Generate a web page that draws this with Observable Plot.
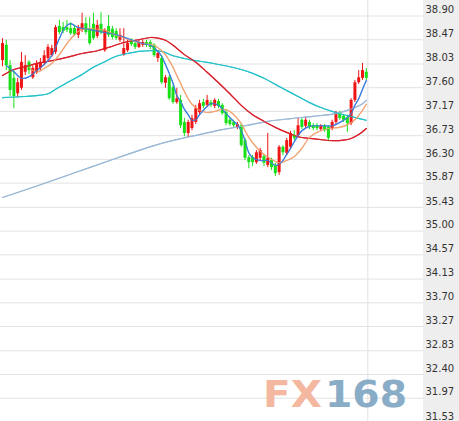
<!DOCTYPE html>
<html><head><meta charset="utf-8">
<script src="https://cdn.jsdelivr.net/npm/d3@7"></script>
<script src="https://cdn.jsdelivr.net/npm/@observablehq/plot@0.6"></script>
<style>
html,body{margin:0;padding:0;background:#fff;}
#chart{position:relative;width:459px;height:421px;background:linear-gradient(to right,#fff 0,#fff 423px,#eeeeee 423px,#eeeeee 459px);overflow:hidden;}
#chart svg{display:block;}
</style></head><body><div id="chart"></div>
<script>
// ---- data ----
const yTicks = [38.90,38.47,38.03,37.60,37.17,36.73,36.30,35.87,35.43,35.00,34.57,34.13,33.70,33.27,32.83,32.40,31.97,31.53];
const sessionBreak = [96.4];

const open = [38.09,38.37,38.00,37.77,37.49,37.59,37.88,38.06,37.78,37.88,
37.95,38.04,38.13,38.18,38.24,38.71,38.69,38.69,38.67,38.67,
38.55,38.64,38.76,38.67,38.75,38.53,38.75,38.27,38.71,38.66,
38.62,38.46,38.20,38.27,38.46,38.40,38.33,38.37,38.42,38.42,
38.37,38.13,38.13,37.68,37.78,37.60,37.33,37.37,36.97,36.77,
36.86,36.97,37.15,37.33,37.28,37.33,37.26,37.35,37.28,37.15,
37.01,36.97,36.88,36.91,36.64,36.33,36.33,36.24,36.32,36.35,
36.19,36.28,36.19,36.06,36.52,36.41,36.52,36.73,36.73,37.01,
36.90,36.97,36.91,36.91,36.84,36.90,36.88,36.86,36.97,37.13,
37.08,37.06,36.95,37.37,37.69,37.77,37.88];
const close = [38.40,38.00,37.55,37.44,37.69,38.06,38.00,37.91,37.95,38.04,
38.06,38.18,38.33,38.31,38.69,38.60,38.62,38.64,38.58,38.56,
38.67,38.76,38.60,38.40,38.49,38.73,38.60,38.64,38.55,38.51,
38.49,38.55,38.31,38.40,38.38,38.33,38.42,38.42,38.37,38.33,
38.18,38.22,37.69,37.78,37.40,37.33,37.40,36.91,36.77,36.97,
37.04,37.22,37.31,37.26,37.37,37.28,37.37,37.26,37.13,36.95,
36.93,36.91,36.93,36.55,36.32,36.24,36.24,36.42,36.46,36.23,
36.32,36.15,36.04,36.52,36.42,36.64,36.77,36.68,36.91,36.88,
37.01,36.88,36.86,36.86,36.90,36.82,36.68,36.97,37.13,37.04,
37.01,36.95,37.37,37.69,37.78,37.91,37.77];
const high = [38.49,38.46,38.09,37.91,37.77,38.24,38.18,38.09,38.00,38.09,
38.13,38.27,38.38,38.37,38.73,38.82,38.78,38.82,38.78,38.73,
38.73,38.95,38.87,38.87,38.95,38.82,38.96,38.67,38.91,38.71,
38.67,38.67,38.67,38.46,38.49,38.44,38.47,38.46,38.46,38.46,
38.40,38.27,38.18,37.82,37.82,37.64,37.59,37.46,37.04,37.01,
37.10,37.28,37.37,37.39,37.46,37.37,37.40,37.39,37.31,37.19,
37.04,37.01,36.97,36.95,36.68,36.37,36.37,36.46,36.50,36.39,
36.77,36.32,36.23,36.55,36.55,36.68,36.81,36.82,37.04,37.04,
37.06,37.01,36.95,36.95,36.93,36.93,36.91,37.01,37.17,37.17,
37.11,37.10,37.40,37.73,37.91,38.04,37.95];
const low = [37.98,37.91,37.44,37.22,37.42,37.55,37.82,37.84,37.75,37.84,
37.91,38.00,38.09,38.15,38.20,38.56,38.58,38.60,38.55,38.53,
38.49,38.60,38.56,38.37,38.46,38.49,38.56,38.24,38.51,38.47,
38.46,38.42,38.17,38.24,38.35,38.29,38.31,38.33,38.33,38.29,
38.15,38.06,37.66,37.59,37.37,37.30,37.30,36.86,36.71,36.70,
36.82,36.93,37.11,37.22,37.24,37.24,37.22,37.22,37.10,36.91,
36.90,36.88,36.84,36.52,36.28,36.13,36.17,36.21,36.28,36.17,
36.15,36.10,35.99,36.01,36.37,36.37,36.48,36.64,36.70,36.84,
36.86,36.84,36.82,36.82,36.81,36.79,36.62,36.82,36.93,37.01,
36.97,36.79,36.91,37.33,37.66,37.73,37.73];

// moving-average lines: [candle index, price]
const maBlue = [[1,38.00],[3,37.89],[5,37.77],[7,37.80],[9,37.91],[11,38.02],[13,38.18],[14,38.33],[15,38.49],[16,38.64],[17,38.73],[18,38.76],[20,38.69],[22,38.67],[24,38.64],[27,38.60],[30,38.56],[34,38.47],[37,38.40],[39,38.37],[41,38.26],[42,38.17],[43,38.02],[44,37.86],[45,37.68],[46,37.46],[47,37.35],[48,37.21],[49,37.11],[50,37.01],[51,37.02],[52,37.11],[54,37.26],[55,37.31],[57,37.28],[59,37.13],[61,36.99],[62,36.93],[63,36.82],[64,36.64],[65,36.42],[66,36.33],[68,36.28],[70,36.28],[72,36.19],[73,36.21],[74,36.28],[75,36.39],[76,36.50],[77,36.62],[78,36.73],[79,36.82],[81,36.90],[84,36.91],[87,36.91],[89,36.97],[91,37.06],[92,37.13],[93,37.28],[94,37.40],[95,37.57],[96,37.73]];
const maOrange = [[7,37.97],[9,37.88],[11,37.95],[13,38.04],[15,38.20],[17,38.40],[19,38.56],[21,38.66],[24,38.67],[27,38.64],[30,38.55],[34,38.46],[37,38.40],[40,38.37],[42,38.27],[43,38.20],[44,38.09],[45,37.97],[46,37.82],[47,37.68],[48,37.53],[49,37.40],[50,37.30],[52,37.19],[54,37.15],[56,37.17],[58,37.21],[60,37.17],[62,37.04],[63,36.95],[64,36.82],[65,36.70],[67,36.52],[69,36.39],[71,36.30],[73,36.24],[75,36.28],[77,36.35],[79,36.50],[81,36.70],[83,36.79],[86,36.86],[89,36.88],[91,36.93],[93,37.02],[95,37.19],[96,37.30]];
const maRed = [[0,37.82],[3,37.93],[6,37.98],[9,38.04],[13,38.09],[17,38.15],[21,38.22],[25,38.27],[28,38.33],[32,38.42],[36,38.47],[39,38.51],[41,38.50],[43,38.46],[45,38.37],[48,38.20],[51,38.06],[54,37.88],[57,37.69],[60,37.49],[63,37.28],[66,37.11],[69,36.99],[72,36.88],[75,36.79],[78,36.71],[81,36.68],[84,36.66],[87,36.64],[90,36.65],[92,36.68],[94,36.75],[96,36.86]];
const maCyan = [[0,37.42],[6,37.44],[12,37.49],[14,37.57],[17,37.69],[21,37.84],[24,37.97],[27,38.07],[30,38.17],[33,38.22],[36,38.26],[39,38.27],[42,38.26],[45,38.18],[48,38.13],[51,38.09],[54,38.06],[57,38.02],[60,37.98],[63,37.93],[66,37.86],[69,37.77],[72,37.66],[75,37.55],[78,37.44],[81,37.33],[84,37.24],[87,37.17],[90,37.11],[93,37.06],[96,37.01]];
const maSteel = [[0,35.61],[10,35.84],[20,36.08],[30,36.32],[40,36.55],[46,36.66],[52,36.75],[58,36.84],[64,36.91],[70,36.99],[76,37.04],[82,37.08],[88,37.13],[91,37.19],[93,37.24],[95,37.31],[96,37.37]];

// ---- styles ----
const RED = "#f01515", GREEN = "#17e017";
const candles = open.map((o, i) => ({i, open: o, close: close[i], high: high[i], low: low[i]}));
const ups = candles.filter(d => d.close >= d.open);
const downs = candles.filter(d => d.close < d.open);
const pts = arr => arr.map(([i, v]) => ({i, v}));
const lines = [
  [maSteel, "#9bb9d6"],
  [maCyan, "#24c2c9"],
  [maRed, "#d8202c"],
  [maOrange, "#f3a677"],
  [maBlue, "#3d7fe2"]
];

const plot = Plot.plot({
  width: 459, height: 421,
  marginLeft: 0, marginRight: 36, marginTop: 0, marginBottom: 0,
  style: {background: "transparent", fontFamily: "DejaVu Sans", fontSize: "10px"},
  x: {domain: [-0.53, 111.1], axis: null},
  y: {domain: [31.5333, 38.9], range: [421.8, 15.5], axis: null},
  marks: [
    Plot.gridY(yTicks, {stroke: "#e2e2e2", strokeOpacity: 1}),
    Plot.ruleX(sessionBreak, {stroke: "#e2e2e2", strokeOpacity: 1}),
    ...lines.map(([arr, c]) => Plot.line(pts(arr), {x: "i", y: "v", stroke: c, strokeWidth: 1.2, curve: "catmull-rom"})),
    Plot.ruleX(ups, {x: "i", y1: "low", y2: "high", stroke: RED, strokeWidth: 1}),
    Plot.ruleX(downs, {x: "i", y1: "low", y2: "high", stroke: GREEN, strokeWidth: 1}),
    Plot.ruleX(ups, {x: "i", y1: "open", y2: "close", stroke: RED, strokeWidth: 3}),
    Plot.ruleX(downs, {x: "i", y1: "open", y2: "close", stroke: GREEN, strokeWidth: 3}),
    ...lines.map(([arr, c]) => Plot.line(pts(arr), {x: "i", y: "v", stroke: c, strokeWidth: 1.1, strokeOpacity: 0.85, curve: "catmull-rom"})),
    Plot.axisY(yTicks, {anchor: "right", tickSize: 0, tickPadding: 2, tickFormat: d => d.toFixed(2), dy: -6, fill: "#333", fontSize: 10, label: null})
  ]
});
document.getElementById("chart").appendChild(plot);

// watermark
const svg = d3.select(plot);
const wm = svg.append("g").attr("font-family", "DejaVu Sans").attr("font-weight", "bold").attr("font-size", 37).attr("text-anchor", "start").attr("opacity", 0.92);
wm.append("text").attr("x", 263).attr("y", 407).attr("fill", "#f4b29a").attr("textLength", 59).attr("lengthAdjust", "spacingAndGlyphs").text("FX");
wm.append("text").attr("x", 325).attr("y", 407).attr("fill", "#7fa5c3").attr("textLength", 82).attr("lengthAdjust", "spacingAndGlyphs").text("168");
</script>
</body></html>
